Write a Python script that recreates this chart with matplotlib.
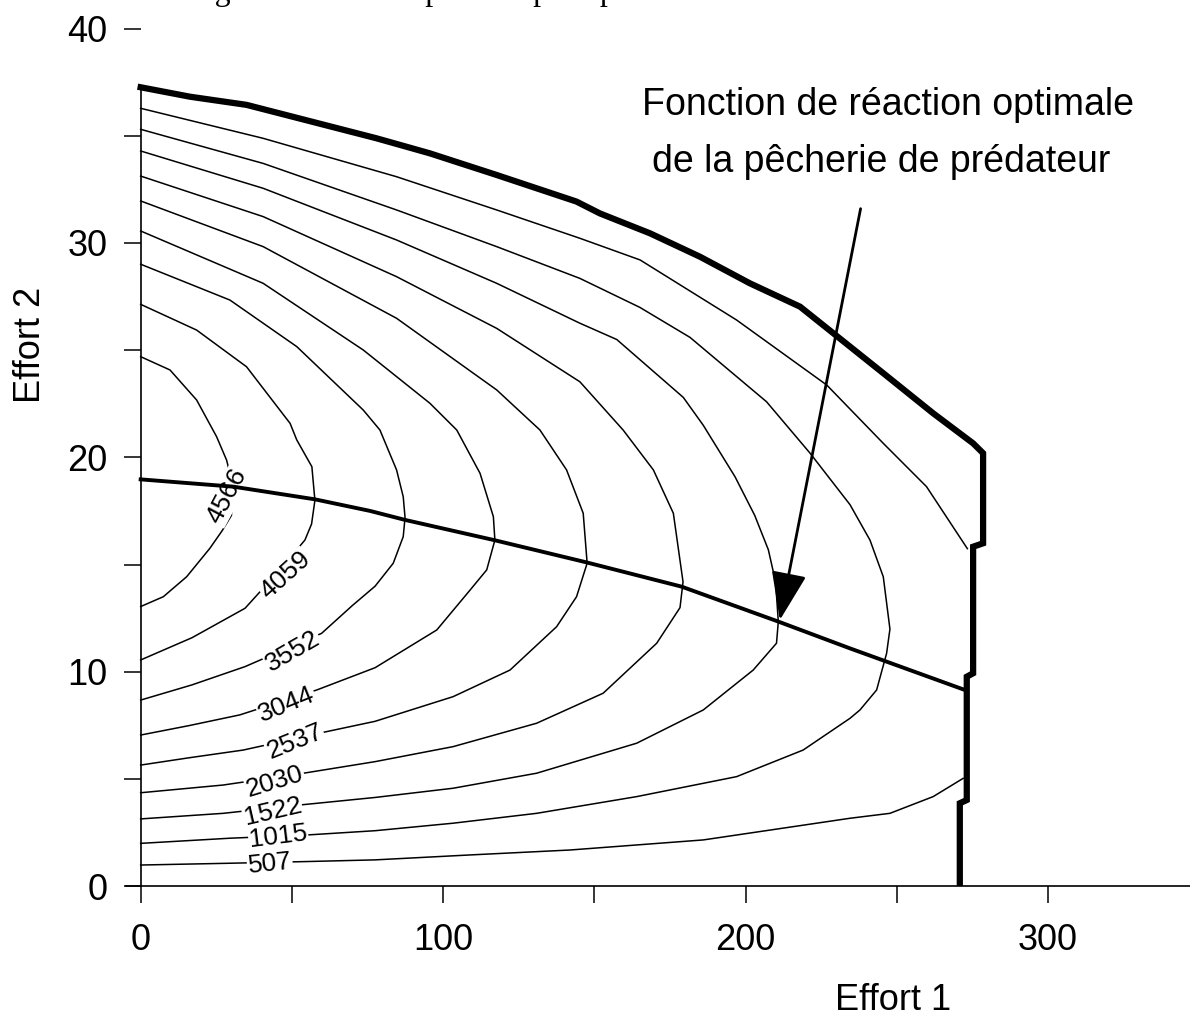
import numpy as np
import matplotlib
matplotlib.use("Agg")
import matplotlib.pyplot as plt

plt.rcParams['font.family'] = ['Liberation Sans', 'DejaVu Sans']

# niveaux de profit et points (Effort 1, Effort 2)
levels = [4566, 4059, 3552, 3044, 2537, 2030, 1522, 1015, 507]
contour_x = [
    [0, 9.7, 18.5, 25.1, 28.4, 30.6, 30.0, 27.0, 22.9, 15.2, 7.5, 0],
    [0, 18.5, 35.0, 49.4, 51.6, 56.6, 57.6, 56.5, 54.3, 45, 34.5, 17, 0],
    [0, 29.5, 51.6, 73.6, 79.1, 84.6, 86.8, 87.4, 86.8, 83.5, 77.5, 70, 59.8, 34.5, 17, 0],
    [0, 40.5, 73.6, 95.6, 104.5, 112.2, 116.6, 117.1, 114.4, 108.9, 97.9, 77.5, 58.2, 32.8, 16, 0],
    [0, 40.5, 84.6, 117.7, 132.0, 140.8, 146.3, 147.6, 144.1, 137.5, 122.1, 103.3, 77.5, 61.5, 33.9, 16, 0],
    [0, 40.5, 84.6, 117.7, 145.2, 159.5, 169.5, 176.1, 179.3, 178.3, 170.6, 152.9, 130.9, 103.3, 77.5, 53.8, 27.3, 0],
    [0, 40.5, 84.6, 117.7, 145.2, 157.4, 179.4, 186, 196.5, 203, 207.5, 209.9, 210.8, 210.2, 202.5, 186.0, 164.0,
     130.9, 103.3, 77.5, 52.7, 27.3, 0],
    [0, 40.5, 84.6, 117.7, 145.2, 165, 181.6, 206.9, 221.3, 234.5, 241.1, 245.5, 247.7, 246.6, 243.3, 237.8,
     234.5, 219.0, 197.0, 164.0, 130.9, 103.3, 77.5, 54.9, 29.5, 0],
    [0, 40.5, 84.6, 117.7, 145.2, 165.1, 197.0, 226.8, 245.5, 259.8, 273.3, np.nan,
     271.9, 262.0, 247.7, 234.5, 186.0, 141.9, 108.9, 77.5, 54.3, 28.4, 0],
]
contour_y = [
    [24.70, 24.08, 22.68, 20.97, 19.88, 18.64, 17.3, 16.6, 15.77, 14.44, 13.51, 13.05],
    [27.14, 25.94, 24.23, 21.59, 20.82, 19.57, 18.0, 16.9, 16.15, 14.6, 12.97, 11.6, 10.56],
    [29.01, 27.34, 25.17, 22.21, 21.28, 19.42, 18.17, 17.2, 16.31, 15.07, 14.0, 13.1, 11.8, 10.25, 9.4, 8.69],
    [30.56, 28.12, 25.01, 22.53, 21.28, 19.26, 17.24, 16.15, 14.76, 13.82, 11.96, 10.2, 9.16, 8.0, 7.5, 7.06],
    [31.96, 29.83, 26.49, 23.15, 21.28, 19.42, 17.40, 15.07, 13.51, 12.11, 10.09, 8.85, 7.7, 7.22, 6.36, 6.0, 5.66],
    [33.12, 31.23, 28.43, 26.02, 23.53, 21.28, 19.42, 17.40, 14.2, 13.0, 11.34, 9.01, 7.61, 6.52, 5.82, 5.28, 4.73, 4.37],
    [34.29, 32.55, 30.14, 28.12, 26.26, 25.5, 22.8, 21.5, 19.1, 17.3, 15.7, 14.2, 12.35, 11.34, 10.09, 8.23, 6.68,
     5.28, 4.58, 4.15, 3.8, 3.41, 3.15],
    [35.30, 33.71, 31.54, 29.83, 28.35, 27.0, 25.6, 22.6, 20.2, 17.8, 16.15, 14.44, 12.0, 10.87, 9.16, 8.23,
     7.84, 6.36, 5.12, 4.19, 3.41, 2.95, 2.6, 2.4, 2.25, 2.01],
    [36.28, 34.88, 33.09, 31.54, 30.22, 29.21, 26.41, 23.38, 20.66, 18.64, 15.75, np.nan,
     5.04, 4.19, 3.41, 3.18, 2.17, 1.70, 1.47, 1.24, 1.16, 1.08, 1.0],
]
# position et angle des etiquettes des courbes
label_x = [28.5, 47.9, 50.4, 48.3, 51.0, 44.4, 43.6, 45.5, 42.7]
label_y = [18.2, 14.52, 10.95, 8.46, 6.75, 4.89, 3.49, 2.32, 1.05]
label_rot = [62, 42, 30, 22, 22, 17, 13, 7, 6]

# fonction de reaction optimale
reaction_x = [0, 30.6, 57.6, 75.8, 87.4, 116.8, 147.4, 178.8, 210.8, 234.5, 272.5]
reaction_y = [18.98, 18.64, 18.05, 17.51, 17.09, 16.15, 15.11, 13.98, 12.35, 11.1, 9.16]

# frontiere du domaine (trait epais)
bound_x = [0, 16.3, 35.0, 56.5, 78.0, 95.6, 117.7, 144.1, 151.8, 168.4, 184.9, 201.4, 218.0, 229.0, 245.5,
           262.0, 275.2, 278.5, 278.5, 275.2, 275.2, 273.1, 273.1, 270.8, 270.8]
bound_y = [37.26, 36.82, 36.44, 35.66, 34.88, 34.18, 33.17, 31.93, 31.38, 30.45, 29.36, 28.12, 27.03, 25.79,
           23.93, 22.06, 20.66, 20.20, 16.0, 15.84, 9.94, 9.78, 4.03, 3.88, 0]

fig = plt.figure(figsize=(11.9, 10.18), dpi=100)
ax = fig.add_axes([0.1055, 0.1292, 0.8945, 0.8428])

for cx, cy in zip(contour_x, contour_y):
    ax.plot(cx, cy, color='black', lw=1.1, zorder=2)

for lev, lx, ly, r in zip(levels, label_x, label_y, label_rot):
    ax.text(lx, ly, str(lev), fontsize=19, rotation=r, rotation_mode='anchor',
            ha='center', va='center', zorder=3,
            bbox=dict(facecolor='white', edgecolor='none', pad=0.5))

ax.plot(reaction_x, reaction_y, color='black', lw=2.8, zorder=4)
ax.plot(bound_x, bound_y, color='black', lw=4.5, zorder=4, solid_joinstyle='miter')

ax.annotate('', xy=(211.3, 12.42), xytext=(238.0, 31.6),
            arrowprops=dict(arrowstyle='-|>,head_length=1.5,head_width=0.55', mutation_scale=20,
                            lw=2, color='black', shrinkA=0, shrinkB=0), zorder=5)
ax.text(247.0, 36.43, 'Fonction de réaction optimale', fontsize=27, ha='center', va='center')
ax.text(244.9, 33.78, 'de la pêcherie de prédateur', fontsize=27, ha='center', va='center')

ax.set_xlim(-5, 346.9)
ax.set_ylim(0, 40)
ax.spines['top'].set_visible(False)
ax.spines['right'].set_visible(False)
ax.spines['left'].set_position(('data', 0))
ax.spines['left'].set_bounds(0, 37.26)
for s in ['left', 'bottom']:
    ax.spines[s].set_linewidth(1.2)

ax.set_xticks([0, 100, 200, 300])
ax.set_xticks([50, 150, 250], minor=True)
ax.set_yticks([0, 10, 20, 30, 40])
ax.set_yticks([5, 15, 25, 35], minor=True)
ax.tick_params(which='both', direction='out', length=12, width=1.1)
ax.tick_params(axis='x', which='major', labelsize=26, pad=14)
ax.tick_params(axis='y', which='major', labelsize=26, pad=12)

fig.text(893 / 1190, 1 - 1000 / 1018, 'Effort 1', fontsize=26, ha='center', va='center')
fig.text(30 / 1190, 1 - 345 / 1018, 'Effort 2', fontsize=26, ha='center', va='center', rotation=90)

# titre coupe en haut de l'image (seules les descendantes sont visibles)
fig.text(188 / 1190, 1.0,
         "Figure 3.4 : Profit pour l'espèce prédateur en fonction des efforts",
         fontsize=23, family=['Liberation Serif', 'DejaVu Serif'], ha='left', va='baseline')

fig.savefig('out.png', dpi=100)
